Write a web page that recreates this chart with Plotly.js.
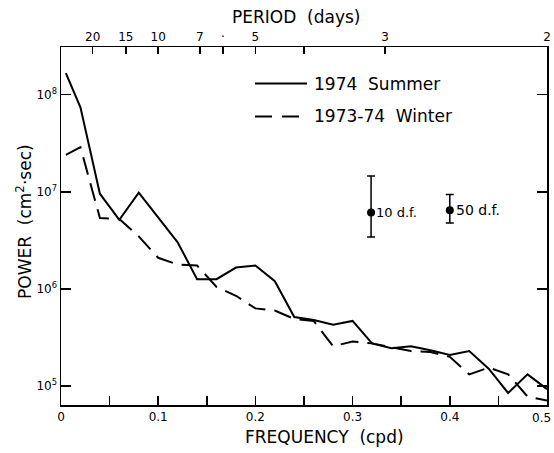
<!DOCTYPE html>
<html><head><meta charset="utf-8">
<script src="https://cdn.plot.ly/plotly-3.0.1.min.js"></script>
<style>html,body{margin:0;padding:0;background:#fff}#chart{width:554px;height:453px}</style>
</head><body><div id="chart"></div>
<script>
// Frequency (cycles per day)
const frequency = [0.005,0.02,0.04,0.06,0.08,0.10,0.12,0.14,0.16,0.18,0.20,0.22,0.24,0.26,0.28,0.30,0.32,0.34,0.36,0.38,0.40,0.42,0.44,0.46,0.48,0.50];
// Power (cm^2·sec)
const summer1974 = [1.66e8,7.41e7,9.55e6,5.13e6,9.77e6,5.50e6,3.02e6,1.26e6,1.26e6,1.66e6,1.74e6,1.20e6,5.13e5,4.79e5,4.27e5,4.68e5,2.75e5,2.45e5,2.57e5,2.34e5,2.09e5,2.29e5,1.51e5,8.5e4,1.32e5,9.3e4];
const winter1973_74 = [2.40e7,2.88e7,5.37e6,5.25e6,3.47e6,2.09e6,1.78e6,1.74e6,1.05e6,8.5e5,6.3e5,6.0e5,4.9e5,4.68e5,2.57e5,2.88e5,2.75e5,2.51e5,2.29e5,2.24e5,2.0e5,1.32e5,1.55e5,1.32e5,7.8e4,7.1e4];
// Confidence bars
const ciLabels = ['10 d.f.','50 d.f.'];
const ciFreq = [0.319,0.400];
const ciPower = [6.11e6,6.46e6];
const ciUpper = [1.456e7,9.35e6];
const ciLower = [3.43e6,4.78e6];
// Ticks
const freqTickVals = [0,0.1,0.2,0.3,0.4];
const freqTickText = ['0','0.1','0.2','0.3','0.4'];
const freqEndTick = ['0.5'];
const freqMinorVals = [0.05,0.15,0.25,0.35,0.45];
const periodTickVals = [0.0326,0.0667,0.1,0.1429,0.1667,0.2,0.3333,0.5];
const periodTickText = ['20','15','10','7','·','5','3','2'];
const periodMinorVals = [0.25];
const powerTickVals = [1e5,1e6,1e7,1e8];
const powerTickText = ['10<sup>5</sup>','10<sup>6</sup>','10<sup>7</sup>','10<sup>8</sup>'];
const legendNames = ['1974  Summer','1973-74  Winter'];

const FONT = 'DejaVu Sans, Liberation Sans, sans-serif';
const traces = [
  {x: frequency, y: summer1974, type:'scatter', mode:'lines', name:legendNames[0], line:{color:'#000', width:2}, showlegend:false},
  {x: frequency, y: winter1973_74, type:'scatter', mode:'lines', name:legendNames[1], line:{color:'#000', width:2, dash:'18px,9px'}, showlegend:false},
  {x: ciFreq, y: ciPower, type:'scatter', mode:'markers', marker:{color:'#000', size:8},
   error_y:{type:'data', symmetric:false, array: ciUpper.map((u,i)=>u-ciPower[i]), arrayminus: ciLower.map((l,i)=>ciPower[i]-l), color:'#000', thickness:1.5, width:4},
   showlegend:false},
  {x:[null], y:[null], xaxis:'x2', type:'scatter', mode:'lines', showlegend:false, hoverinfo:'skip'}
];

const layout = {
  width:554, height:453,
  margin:{l:61, r:7, t:47, b:48},
  paper_bgcolor:'#fff', plot_bgcolor:'#fff',
  font:{family:FONT, color:'#000', size:12},
  showlegend:false,
  xaxis:{range:[0,0.5], tickmode:'array', tickvals:freqTickVals, ticktext:freqTickText,
    ticks:'inside', ticklen:9, tickwidth:1.5, tickcolor:'#000',
    minor:{tickmode:'array', tickvals:freqMinorVals, ticks:'inside', ticklen:9, tickwidth:1.5, tickcolor:'#000', showgrid:false},
    showline:true, linewidth:1.5, linecolor:'#000', showgrid:false, zeroline:false,
    tickfont:{size:12}},
  xaxis2:{range:[0,0.5], overlaying:'x', side:'top', anchor:'y', tickmode:'array', tickvals:periodTickVals, ticktext:periodTickText,
    ticks:'inside', ticklen:7, tickwidth:1.5, tickcolor:'#000', ticklabeloverflow:'allow',
    minor:{tickmode:'array', tickvals:periodMinorVals, ticks:'inside', ticklen:7, tickwidth:1.5, tickcolor:'#000', showgrid:false},
    showline:true, linewidth:1.5, linecolor:'#000', showgrid:false, zeroline:false,
    tickfont:{size:12}},
  yaxis:{type:'log', range:[4.805,8.49], tickmode:'array', tickvals:powerTickVals, ticktext:powerTickText,
    ticks:'inside', ticklen:10, tickwidth:1.5, tickcolor:'#000', mirror:'ticks',
    showline:true, linewidth:1.5, linecolor:'#000', showgrid:false, zeroline:false,
    tickfont:{size:12}},
  shapes:[
    {type:'line', xref:'paper', yref:'paper', x0:(255-61)/486, x1:(307-61)/486, y0:(405-83.5)/358, y1:(405-83.5)/358, line:{color:'#000', width:2}},
    {type:'line', xref:'paper', yref:'paper', x0:(255-61)/486, x1:(307-61)/486, y0:(405-116.5)/358, y1:(405-116.5)/358, line:{color:'#000', width:2, dash:'17px,10px'}}
  ],
  annotations:[
    {xref:'paper', yref:'paper', x:(296-61)/486, y:(405-17)/358, xanchor:'center', yanchor:'middle', text:'PERIOD  (days)', showarrow:false, font:{size:17}},
    {xref:'paper', yref:'paper', x:(324-61)/486, y:(405-437)/358, xanchor:'center', yanchor:'middle', text:'FREQUENCY  (cpd)', showarrow:false, font:{size:17}},
    {xref:'paper', yref:'paper', x:(24-61)/486, y:(405-222)/358, xanchor:'center', yanchor:'middle', textangle:-90, text:'POWER  (cm<sup>2</sup>·sec)', showarrow:false, font:{size:17}},
    {xref:'paper', yref:'paper', x:(312-61)/486, y:(405-83.5)/358, xanchor:'left', yanchor:'middle', text:legendNames[0], showarrow:false, font:{size:17}},
    {xref:'paper', yref:'paper', x:(312-61)/486, y:(405-116.5)/358, xanchor:'left', yanchor:'middle', text:legendNames[1], showarrow:false, font:{size:17}},
    {xref:'x', yref:'y', x:ciFreq[0], y:Math.log10(ciPower[0]), xanchor:'left', yanchor:'middle', xshift:3, text:ciLabels[0], showarrow:false, font:{size:13}},
    {xref:'x', yref:'y', x:ciFreq[1], y:Math.log10(ciPower[1]), xanchor:'left', yanchor:'middle', xshift:4, text:ciLabels[1], showarrow:false, font:{size:14}},
    {xref:'paper', yref:'paper', x:1, y:0, xanchor:'right', yanchor:'top', xshift:6, yshift:-4, text:freqEndTick[0], showarrow:false, font:{size:12}}
  ]
};
Plotly.newPlot('chart', traces, layout, {staticPlot:true, displayModeBar:false});
</script></body></html>
